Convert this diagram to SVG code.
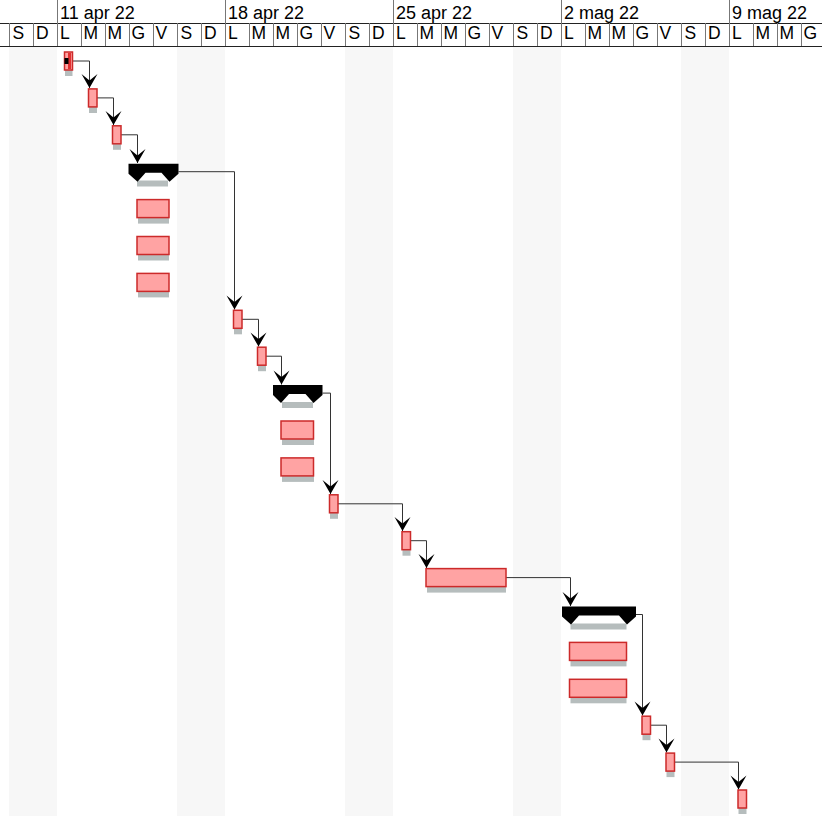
<svg xmlns="http://www.w3.org/2000/svg" width="822" height="816" viewBox="0 0 822 816">
<style>
.wk{fill:#f7f7f7}
.vl{stroke:#777;stroke-width:1}
.hl{stroke:#222;stroke-width:1}
.wt{font-family:"Liberation Sans",Arial,sans-serif;font-size:18px;fill:#000}
.dt{font-family:"Liberation Sans",Arial,sans-serif;font-size:17.5px;fill:#000}
.bar{fill:#ffa3a3;stroke:#cc2a2a;stroke-width:1.5}
.sh{fill:#b6bdbd}
.sum{fill:#000}
.cn{fill:none;stroke:#333;stroke-width:1;marker-end:url(#arr)}
</style>
<defs>
<marker id="arr" markerUnits="userSpaceOnUse" markerWidth="18" markerHeight="18" viewBox="-16 -9 18 18" refX="0" refY="0" orient="auto" overflow="visible">
<path d="M0,0 L-14,-8 L-7.5,0 L-14,8 Z" fill="#000"/>
</marker>
</defs>
<rect x="0" y="0" width="822" height="816" fill="#fff"/>
<g id="weekends">
<rect class="wk" x="9" y="46" width="48" height="770"/>
<rect class="wk" x="177" y="46" width="48" height="770"/>
<rect class="wk" x="345" y="46" width="48" height="770"/>
<rect class="wk" x="513" y="46" width="48" height="770"/>
<rect class="wk" x="681" y="46" width="48" height="770"/>
</g>
<g id="header">
<line class="hl" x1="0" y1="23.5" x2="822" y2="23.5"/>
<line class="hl" x1="0" y1="46.5" x2="822" y2="46.5"/>
<g>
<line class="vl" x1="57.5" y1="0" x2="57.5" y2="23"/>
<line class="vl" x1="225.5" y1="0" x2="225.5" y2="23"/>
<line class="vl" x1="393.5" y1="0" x2="393.5" y2="23"/>
<line class="vl" x1="561.5" y1="0" x2="561.5" y2="23"/>
<line class="vl" x1="729.5" y1="0" x2="729.5" y2="23"/>
</g>
<text class="wt" x="60" y="19">11 apr 22</text>
<text class="wt" x="228" y="19">18 apr 22</text>
<text class="wt" x="396" y="19">25 apr 22</text>
<text class="wt" x="564" y="19">2 mag 22</text>
<text class="wt" x="732" y="19">9 mag 22</text>
<g>
<line class="vl" x1="9.5" y1="23" x2="9.5" y2="46"/>
<line class="vl" x1="33.5" y1="23" x2="33.5" y2="46"/>
<line class="vl" x1="57.5" y1="23" x2="57.5" y2="46"/>
<line class="vl" x1="81.5" y1="23" x2="81.5" y2="46"/>
<line class="vl" x1="105.5" y1="23" x2="105.5" y2="46"/>
<line class="vl" x1="129.5" y1="23" x2="129.5" y2="46"/>
<line class="vl" x1="153.5" y1="23" x2="153.5" y2="46"/>
<line class="vl" x1="177.5" y1="23" x2="177.5" y2="46"/>
<line class="vl" x1="201.5" y1="23" x2="201.5" y2="46"/>
<line class="vl" x1="225.5" y1="23" x2="225.5" y2="46"/>
<line class="vl" x1="249.5" y1="23" x2="249.5" y2="46"/>
<line class="vl" x1="273.5" y1="23" x2="273.5" y2="46"/>
<line class="vl" x1="297.5" y1="23" x2="297.5" y2="46"/>
<line class="vl" x1="321.5" y1="23" x2="321.5" y2="46"/>
<line class="vl" x1="345.5" y1="23" x2="345.5" y2="46"/>
<line class="vl" x1="369.5" y1="23" x2="369.5" y2="46"/>
<line class="vl" x1="393.5" y1="23" x2="393.5" y2="46"/>
<line class="vl" x1="417.5" y1="23" x2="417.5" y2="46"/>
<line class="vl" x1="441.5" y1="23" x2="441.5" y2="46"/>
<line class="vl" x1="465.5" y1="23" x2="465.5" y2="46"/>
<line class="vl" x1="489.5" y1="23" x2="489.5" y2="46"/>
<line class="vl" x1="513.5" y1="23" x2="513.5" y2="46"/>
<line class="vl" x1="537.5" y1="23" x2="537.5" y2="46"/>
<line class="vl" x1="561.5" y1="23" x2="561.5" y2="46"/>
<line class="vl" x1="585.5" y1="23" x2="585.5" y2="46"/>
<line class="vl" x1="609.5" y1="23" x2="609.5" y2="46"/>
<line class="vl" x1="633.5" y1="23" x2="633.5" y2="46"/>
<line class="vl" x1="657.5" y1="23" x2="657.5" y2="46"/>
<line class="vl" x1="681.5" y1="23" x2="681.5" y2="46"/>
<line class="vl" x1="705.5" y1="23" x2="705.5" y2="46"/>
<line class="vl" x1="729.5" y1="23" x2="729.5" y2="46"/>
<line class="vl" x1="753.5" y1="23" x2="753.5" y2="46"/>
<line class="vl" x1="777.5" y1="23" x2="777.5" y2="46"/>
<line class="vl" x1="801.5" y1="23" x2="801.5" y2="46"/>
</g>
<text class="dt" x="12.5" y="39">S</text><text class="dt" x="36" y="39">D</text>
<text class="dt" x="60" y="39">L</text><text class="dt" x="83.5" y="39">M</text><text class="dt" x="107.5" y="39">M</text><text class="dt" x="131.5" y="39">G</text><text class="dt" x="155.5" y="39">V</text><text class="dt" x="180.5" y="39">S</text><text class="dt" x="204" y="39">D</text>
<text class="dt" x="228" y="39">L</text><text class="dt" x="251.5" y="39">M</text><text class="dt" x="275.5" y="39">M</text><text class="dt" x="299.5" y="39">G</text><text class="dt" x="323.5" y="39">V</text><text class="dt" x="348.5" y="39">S</text><text class="dt" x="372" y="39">D</text>
<text class="dt" x="396" y="39">L</text><text class="dt" x="419.5" y="39">M</text><text class="dt" x="443.5" y="39">M</text><text class="dt" x="467.5" y="39">G</text><text class="dt" x="491.5" y="39">V</text><text class="dt" x="516.5" y="39">S</text><text class="dt" x="540" y="39">D</text>
<text class="dt" x="564" y="39">L</text><text class="dt" x="587.5" y="39">M</text><text class="dt" x="611.5" y="39">M</text><text class="dt" x="635.5" y="39">G</text><text class="dt" x="659.5" y="39">V</text><text class="dt" x="684.5" y="39">S</text><text class="dt" x="708" y="39">D</text>
<text class="dt" x="732" y="39">L</text><text class="dt" x="755.5" y="39">M</text><text class="dt" x="779.5" y="39">M</text><text class="dt" x="803.5" y="39">G</text>
</g>
<g id="connectors">
<path class="cn" d="M72.5,61 H89.5 V88"/>
<path class="cn" d="M97,97.9 H113.5 V125"/>
<path class="cn" d="M121,134.8 H137.5 V163"/>
<path class="cn" d="M178.5,171.7 H234.5 V309.5"/>
<path class="cn" d="M241.5,319.3 H258.5 V346.5"/>
<path class="cn" d="M265.5,356.2 H281.5 V384.5"/>
<path class="cn" d="M322.5,393.1 H330.5 V494"/>
<path class="cn" d="M338,503.8 H402.5 V531"/>
<path class="cn" d="M410.5,540.7 H426.5 V568"/>
<path class="cn" d="M506,577.6 H570.5 V606"/>
<path class="cn" d="M636,614.5 H642.5 V715.5"/>
<path class="cn" d="M650.5,725.2 H666.5 V752.5"/>
<path class="cn" d="M674.5,762.1 H738.5 V789.5"/>
</g>
<g id="task1">
<rect class="sh" x="65" y="70" width="7.5" height="6"/>
<rect class="bar" x="64.5" y="52" width="8" height="18"/>
<rect x="68" y="53" width="3" height="16" fill="#e03030"/>
<rect x="64.5" y="58" width="4" height="6" fill="#000"/>
</g>
<g id="task2"><rect class="sh" x="89" y="107" width="8" height="6"/><rect class="bar" x="88.5" y="88.9" width="8.5" height="18"/></g>
<g id="task3"><rect class="sh" x="113" y="143.8" width="8" height="6"/><rect class="bar" x="112.5" y="125.8" width="8.5" height="18"/></g>
<g id="summary1">
<rect class="sh" x="137" y="180.5" width="31" height="6"/>
<polygon class="sum" points="128.5,163.7 178.5,163.7 178.5,173.7 169.5,181.7 161.5,172.7 145.5,172.7 137.5,181.7 128.5,173.7"/>
</g>
<g id="task5"><rect class="sh" x="138" y="217.6" width="31" height="6"/><rect class="bar" x="137" y="199.6" width="32" height="18"/></g>
<g id="task6"><rect class="sh" x="138" y="254.5" width="31" height="6"/><rect class="bar" x="137" y="236.5" width="32" height="18"/></g>
<g id="task7"><rect class="sh" x="138" y="291.4" width="31" height="6"/><rect class="bar" x="137" y="273.4" width="32" height="18"/></g>
<g id="task8"><rect class="sh" x="234" y="328.3" width="8" height="6"/><rect class="bar" x="233.5" y="310.3" width="8.5" height="18"/></g>
<g id="task9"><rect class="sh" x="258" y="365.2" width="8" height="6"/><rect class="bar" x="257.5" y="347.2" width="8.5" height="18"/></g>
<g id="summary2">
<rect class="sh" x="282" y="402" width="31" height="6"/>
<polygon class="sum" points="273,385.1 322.5,385.1 322.5,395.1 313.5,403.1 305.5,394.1 289,394.1 281,403.1 273,395.1"/>
</g>
<g id="task11"><rect class="sh" x="282" y="439" width="32" height="6"/><rect class="bar" x="281" y="421" width="32.5" height="18"/></g>
<g id="task12"><rect class="sh" x="282" y="475.9" width="32" height="6"/><rect class="bar" x="281" y="457.9" width="32.5" height="18"/></g>
<g id="task13"><rect class="sh" x="330" y="512.8" width="8" height="6"/><rect class="bar" x="329.5" y="494.8" width="8.5" height="18"/></g>
<g id="task14"><rect class="sh" x="402.5" y="549.7" width="8" height="6"/><rect class="bar" x="402" y="531.7" width="8.5" height="18"/></g>
<g id="task15"><rect class="sh" x="427" y="586.6" width="79" height="6"/><rect class="bar" x="426" y="568.6" width="80" height="18"/></g>
<g id="summary3">
<rect class="sh" x="570.5" y="623.5" width="56" height="6"/>
<polygon class="sum" points="562,606.5 636,606.5 636,616.5 627,624.5 619,615.5 579,615.5 571,624.5 562,616.5"/>
</g>
<g id="task17"><rect class="sh" x="570.5" y="660.4" width="56" height="6"/><rect class="bar" x="569.5" y="642.4" width="57" height="18"/></g>
<g id="task18"><rect class="sh" x="570.5" y="697.3" width="56" height="6"/><rect class="bar" x="569.5" y="679.3" width="57" height="18"/></g>
<g id="task19"><rect class="sh" x="642.5" y="734.2" width="8" height="6"/><rect class="bar" x="642" y="716.2" width="8.5" height="18"/></g>
<g id="task20"><rect class="sh" x="666.5" y="771.1" width="8" height="6"/><rect class="bar" x="666" y="753.1" width="8.5" height="18"/></g>
<g id="task21"><rect class="sh" x="738.5" y="808" width="8" height="6"/><rect class="bar" x="738" y="790" width="8.5" height="18"/></g>
</svg>
